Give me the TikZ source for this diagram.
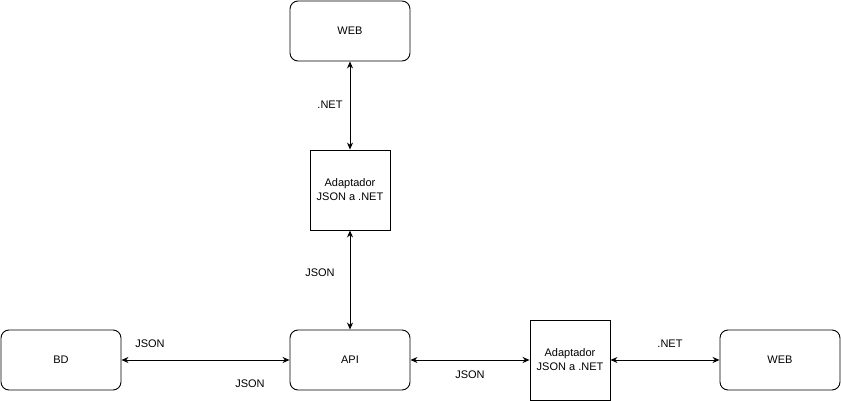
\documentclass[tikz,border=0pt]{standalone}
\usepackage{fontspec}
\setmainfont{Liberation Sans}
\usetikzlibrary{arrows.meta}
\begin{document}
\begin{tikzpicture}[
	x=1pt, y=-1pt,
	font=\fontsize{11}{14}\selectfont,
	box/.style={ draw, rounded corners=8pt, minimum width=120pt, minimum height=60pt, inner sep=0pt, line width=0.9pt },
	adapt/.style={ draw, minimum width=80pt, minimum height=80pt, inner sep=0pt, align=center, line width=0.9pt },
	link/.style={ {Stealth[length=7pt,width=6pt]}-{Stealth[length=7pt,width=6pt]}, line width=0.9pt },
	tag/.style={ inner sep=0pt }
]
\useasboundingbox (0,0) rectangle (841,401);

% top column
\node at (350,31) (webtop) [box] {WEB};
\node at (350,190) (adapttop) [adapt] {Adaptador\\JSON a .NET};
\draw[link] (webtop) to (adapttop);
\node at (330,105) (nettop) [tag] {.NET};

% bottom row
\node at (61,360) (bd) [box] {BD};
\node at (350,360) (api) [box] {API};
\node at (570,360) (adaptright) [adapt] {Adaptador\\JSON a .NET};
\node at (780,360) (webright) [box] {WEB};
\draw[link] (adapttop) to (api);
\draw[link] (bd) to (api);
\draw[link] (api) to (adaptright);
\draw[link] (adaptright) to (webright);

% labels
\node at (320,273) (jsontop) [tag] {JSON};
\node at (150,344) (jsonbd) [tag] {JSON};
\node at (250,384) (jsonapi) [tag] {JSON};
\node at (470,375) (jsonright) [tag] {JSON};
\node at (670,344) (netright) [tag] {.NET};

\end{tikzpicture}
\end{document}
